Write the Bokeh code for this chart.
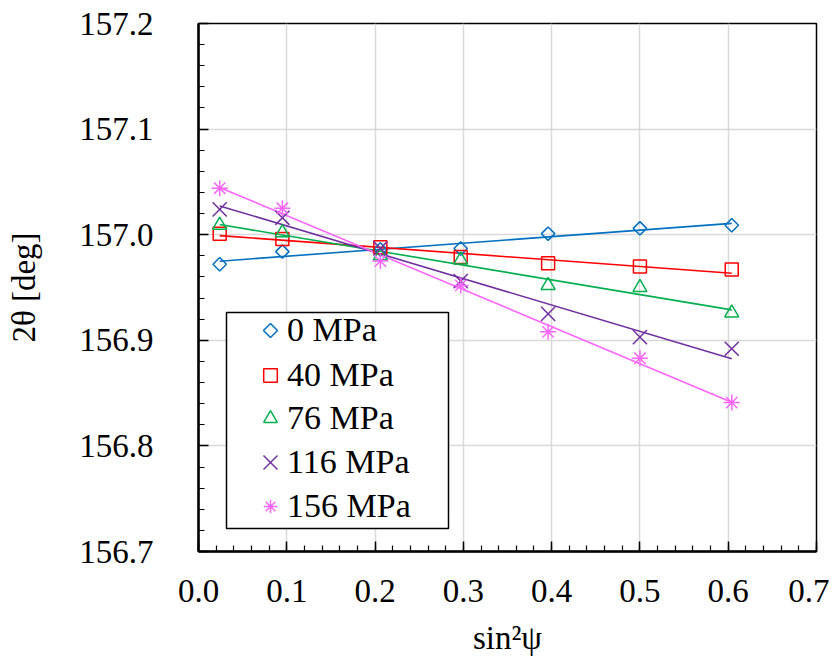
import numpy as np
from bokeh.plotting import figure
from bokeh.models import (Range1d, FixedTicker, PrintfTickFormatter, Legend,
                          LegendItem, BoxAnnotation, PolyAnnotation)
from bokeh.embed import file_html
from bokeh.resources import INLINE

# ---- data ----
sin2psi = [0.024, 0.095, 0.206, 0.297, 0.396, 0.500, 0.604]
two_theta_0 = [156.972, 156.984, 156.986, 156.987, 157.001, 157.006, 157.009]
two_theta_40 = [157.001, 156.996, 156.988, 156.979, 156.973, 156.970, 156.967]
two_theta_76 = [157.009, 157.002, 156.980, 156.976, 156.952, 156.950, 156.926]
two_theta_116 = [157.024, 157.016, 156.987, 156.956, 156.925, 156.903, 156.892]
two_theta_156 = [157.044, 157.025, 156.975, 156.952, 156.908, 156.883, 156.841]
series = [two_theta_0, two_theta_40, two_theta_76, two_theta_116, two_theta_156]
labels = ["0 MPa", "40 MPa", "76 MPa", "116 MPa", "156 MPa"]
x_ticks = [0.0, 0.1, 0.2, 0.3, 0.4, 0.5, 0.6, 0.7]
y_ticks = [156.7, 156.8, 156.9, 157.0, 157.1, 157.2]

# ---- styles ----
colors = ["#0070C0", "#FF0000", "#00B050", "#7030A0", "#FF66FF"]
markers = ["square", "square", "triangle", "x", "asterisk"]
angles = [np.pi / 4, 0.0, 0.0, 0.0, 0.0]
sizes = [9.5, 13, 14, 20, 16]
FONT = "Liberation Serif"

FRAME_W, FRAME_H = 618, 528
BL, BT = 198, 23
W, H = 829, 658
p = figure(width=W, height=H, output_backend="svg", toolbar_location=None,
           x_range=Range1d(0.0, 0.7), y_range=Range1d(156.7, 157.2),
           min_border_left=BL, min_border_right=W - BL - FRAME_W,
           min_border_top=BT, min_border_bottom=H - BT - FRAME_H)
p.background_fill_color = "white"
p.border_fill_color = "white"
p.outline_line_color = "black"
p.outline_line_width = 1.5

x_minor = [round(v, 3) for v in np.arange(0.0, 0.7001, 0.02)]
y_minor = [round(v, 3) for v in np.arange(156.7, 157.2001, 0.02)]
p.xaxis.ticker = FixedTicker(ticks=x_ticks, minor_ticks=x_minor)
p.yaxis.ticker = FixedTicker(ticks=y_ticks, minor_ticks=y_minor)
p.xaxis.formatter = PrintfTickFormatter(format="%.1f")
p.yaxis.formatter = PrintfTickFormatter(format="%.1f")

for ax in (p.xaxis, p.yaxis):
    ax.axis_line_color = "black"
    ax.axis_line_width = 2.5
    ax.major_tick_line_color = "black"
    ax.minor_tick_line_color = "black"
    ax.major_tick_line_width = 1.5
    ax.minor_tick_line_width = 1.2
    ax.major_tick_in = 10
    ax.major_tick_out = 0
    ax.minor_tick_in = 6
    ax.minor_tick_out = 0
    ax.major_label_text_font = FONT
    ax.major_label_text_font_size = "33px"
    ax.major_label_text_color = "black"
    ax.axis_label_text_font = FONT
    ax.axis_label_text_font_size = "33px"
    ax.axis_label_text_font_style = "normal"
    ax.axis_label_text_color = "black"

p.xaxis.axis_label = "sin²ψ"
p.yaxis.axis_label = "2θ [deg]"
p.xaxis.major_label_standoff = 28
p.xaxis.axis_label_standoff = 15
p.yaxis.major_label_standoff = 45
p.yaxis.axis_label_standoff = 34

p.xgrid.grid_line_color = "#d9d9d9"
p.ygrid.grid_line_color = "#d9d9d9"
p.xgrid.grid_line_width = 1.5
p.ygrid.grid_line_width = 1.5

for ys, c in zip(series, colors):
    slope, intercept = np.polyfit(sin2psi, ys, 1)
    xs_fit = [sin2psi[0], sin2psi[-1]]
    ys_fit = [intercept + slope * xv for xv in xs_fit]
    p.line(xs_fit, ys_fit, line_color=c, line_width=1.6)

scatter_renderers = []
for ys, c, m, a, s in zip(series, colors, markers, angles, sizes):
    r = p.scatter(sin2psi, ys, marker=m, size=s, angle=a, fill_color=None,
                  line_color=c, line_width=1.5)
    scatter_renderers.append(r)

# ---- legend: white box with black frame, in screen px relative to the frame ----
LEG_L, LEG_R, LEG_T, LEG_B = 28, 250, 239, 23
box = BoxAnnotation(left=LEG_L, right=LEG_R, top=LEG_T, bottom=LEG_B,
                    left_units="screen", right_units="screen",
                    top_units="screen", bottom_units="screen",
                    fill_color="white", fill_alpha=1.0, line_color="black",
                    line_alpha=1.0, line_width=1.5)
p.add_layout(box)

ROW_H = 44
G = 34                 # legend glyph box (px)
GLYPH_CX = 72          # glyph centre from frame left
row_centers = [221, 176, 133, 89, 45]   # from frame bottom

# glyphs that Bokeh's legend cannot draw as in the reference (rotated diamond,
# large x) are drawn as small screen-space outlines
d = 7
cy0 = row_centers[0]
p.add_layout(PolyAnnotation(xs=[GLYPH_CX, GLYPH_CX + d, GLYPH_CX, GLYPH_CX - d],
                            ys=[cy0 + d, cy0, cy0 - d, cy0],
                            xs_units="screen", ys_units="screen",
                            fill_alpha=0, line_color=colors[0], line_width=1.5,
                            line_alpha=1.0))
cy3 = row_centers[3]
for sgn in (1, -1):
    p.add_layout(PolyAnnotation(xs=[GLYPH_CX - d, GLYPH_CX + d],
                                ys=[cy3 - sgn * d, cy3 + sgn * d],
                                xs_units="screen", ys_units="screen",
                                fill_alpha=0, line_color=colors[3],
                                line_width=1.5, line_alpha=1.0))

dummy = p.scatter([], [], marker="square", size=1, fill_alpha=0, line_alpha=0)

for i, (lab, rend, cy) in enumerate(zip(labels, scatter_renderers, row_centers)):
    use = dummy if i in (0, 3) else rend
    leg = Legend(items=[LegendItem(label=lab, renderers=[use])],
                 location=(GLYPH_CX - G // 2, cy - ROW_H // 2),
                 glyph_width=G, glyph_height=G, label_standoff=0,
                 background_fill_alpha=0, border_line_alpha=0, padding=0,
                 spacing=0, label_height=ROW_H, label_text_font=FONT,
                 label_text_font_size="34px", label_text_color="black",
                 margin=0)
    p.add_layout(leg, "center")

open("out.html", "w").write(file_html(p, INLINE))
